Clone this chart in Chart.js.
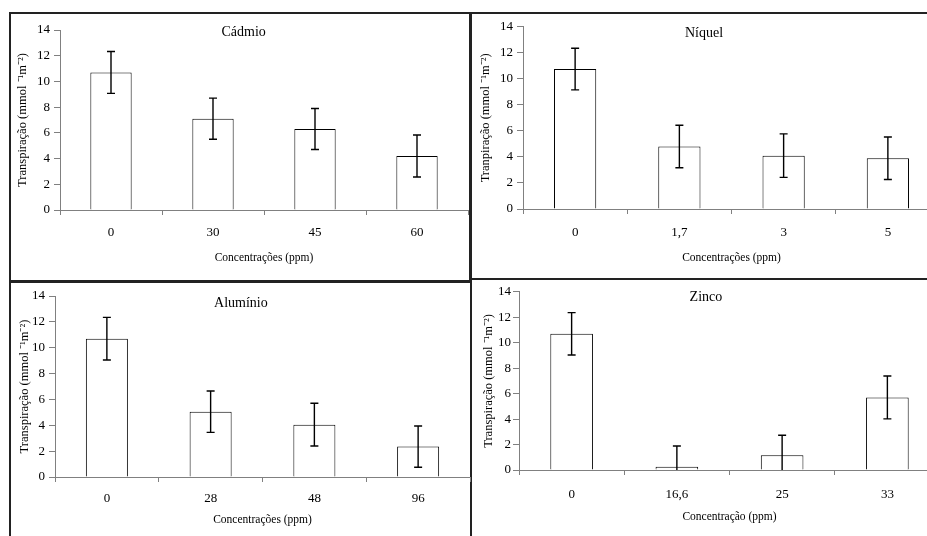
<!DOCTYPE html>
<html>
<head>
<meta charset="utf-8">
<script src="https://cdn.jsdelivr.net/npm/chart.js@4.4.1/dist/chart.umd.min.js"></script>
<style>
  body { margin: 0; width: 927px; height: 536px; overflow: hidden; background: #fff; position: relative; }
  .box { position: absolute; border: 2px solid #222; box-sizing: border-box; }
  canvas { position: absolute; }
</style>
</head>
<body>
<div class="box" style="left:9px;top:12px;width:463px;height:271px"></div>
<div class="box" style="left:469px;top:12px;width:500px;height:268px"></div>
<div class="box" style="left:9px;top:280px;width:463px;height:300px"></div>
<div class="box" style="left:470px;top:278px;width:500px;height:300px"></div>

<canvas id="cadmio" width="460" height="264" style="left:12px;top:15px"></canvas>
<canvas id="niquel" width="470" height="262" style="left:475px;top:15px"></canvas>
<canvas id="aluminio" width="461" height="252" style="left:14px;top:284px"></canvas>
<canvas id="zinco" width="467" height="254" style="left:478px;top:282px"></canvas>

<script>
// data
const cadmioLabels = ['0', '30', '45', '60'];
const cadmioValues = [10.7, 7.1, 6.3, 4.2];
const cadmioErrors = [1.63, 1.6, 1.6, 1.63];

const niquelLabels = ['0', '1,7', '3', '5'];
const niquelValues = [10.75, 4.8, 4.1, 3.9];
const niquelErrors = [1.6, 1.63, 1.67, 1.63];

const aluminioLabels = ['0', '28', '48', '96'];
const aluminioValues = [10.7, 5.05, 4.05, 2.35];
const aluminioErrors = [1.65, 1.6, 1.65, 1.6];

const zincoLabels = ['0', '16,6', '25', '33'];
const zincoValues = [10.7, 0.26, 1.15, 5.7];
const zincoErrors = [1.66, 1.63, 1.58, 1.68];

const yTicksMax = 14;
const yTicksStep = 2;

const serif = "'Liberation Serif', 'Times New Roman', serif";
Chart.defaults.font.family = serif;
Chart.defaults.color = '#000';

const axisGray = '#808080';

// error bars + panel title
const extras = {
  id: 'extras',
  afterDatasetsDraw(chart) {
    const o = chart.options.plugins.extras;
    const ctx = chart.ctx;
    const x = chart.scales.x, y = chart.scales.y;
    const area = chart.chartArea;
    ctx.save();
    ctx.strokeStyle = '#000';
    ctx.lineWidth = 1.4;
    o.values.forEach((v, i) => {
      const px = x.getPixelForValue(i);
      const hi = v + o.errors[i];
      const lo = v - o.errors[i];
      const yHi = y.getPixelForValue(hi);
      const yLo = y.getPixelForValue(Math.max(lo, 0));
      ctx.beginPath();
      ctx.moveTo(px, yHi);
      ctx.lineTo(px, yLo);
      ctx.moveTo(px - 4, yHi);
      ctx.lineTo(px + 4, yHi);
      if (lo >= 0) {
        ctx.moveTo(px - 4, yLo);
        ctx.lineTo(px + 4, yLo);
      }
      ctx.stroke();
    });
    ctx.fillStyle = '#000';
    ctx.font = '14px ' + serif;
    ctx.textAlign = 'center';
    ctx.textBaseline = 'middle';
    ctx.fillText(o.title, area.left + o.titleX * (area.right - area.left), area.top + o.titleY);
    ctx.restore();
  }
};

function makePanel(id, labels, values, errors, p) {
  return new Chart(document.getElementById(id), {
    type: 'bar',
    data: {
      labels: labels,
      datasets: [{
        data: values,
        backgroundColor: '#fff',
        borderColor: '#000',
        borderWidth: 1,
        barPercentage: 0.405,
        categoryPercentage: 1
      }]
    },
    options: {
      responsive: false,
      animation: false,
      layout: { padding: { top: p.padTop, right: p.padRight, left: 0, bottom: 0 } },
      plugins: {
        legend: { display: false },
        tooltip: { enabled: false },
        extras: { values: values, errors: errors, title: p.title, titleX: p.titleX, titleY: p.titleY }
      },
      scales: {
        x: {
          grid: { display: true, drawOnChartArea: false, offset: true, color: axisGray, tickLength: 5 },
          border: { color: axisGray },
          ticks: { font: { size: 13 }, padding: p.tickPad, color: '#000' },
          title: { display: true, text: p.xTitle, font: { size: 11.5 }, padding: { top: 0, bottom: p.xTitlePad } },
          afterFit: s => { s.height = p.axisH; }
        },
        y: {
          min: 0,
          max: yTicksMax,
          grid: { display: true, drawOnChartArea: false, color: axisGray, tickLength: 6 },
          border: { color: axisGray },
          ticks: { stepSize: yTicksStep, font: { size: 13 }, padding: p.yTickPad, color: '#000' },
          title: { display: true, text: p.yTitle, font: { size: 12.5 }, padding: { top: 3, bottom: 0 } },
          afterFit: s => { s.width = p.axisW; }
        }
      }
    },
    plugins: [extras]
  });
}

makePanel('cadmio', cadmioLabels, cadmioValues, cadmioErrors, {
  title: 'Cádmio', yTitle: 'Transpiração (mmol ⁻¹m⁻²)', xTitle: 'Concentrações (ppm)',
  axisW: 48, axisH: 69, padTop: 15, padRight: 4, tickPad: 10, yTickPad: 4, xTitlePad: 14, titleX: 0.45, titleY: 2
});
makePanel('niquel', niquelLabels, niquelValues, niquelErrors, {
  title: 'Níquel', yTitle: 'Tranpiração (mmol ⁻¹m⁻²)', xTitle: 'Concentrações (ppm)',
  axisW: 48, axisH: 68, padTop: 11, padRight: 5, tickPad: 11, yTickPad: 4, xTitlePad: 12, titleX: 0.434, titleY: 7
});
makePanel('aluminio', aluminioLabels, aluminioValues, aluminioErrors, {
  title: 'Alumínio', yTitle: 'Transpiração (mmol ⁻¹m⁻²)', xTitle: 'Concentrações (ppm)',
  axisW: 41, axisH: 59, padTop: 12, padRight: 5, tickPad: 8.5, yTickPad: 4, xTitlePad: 9, titleX: 0.448, titleY: 7
});
makePanel('zinco', zincoLabels, zincoValues, zincoErrors, {
  title: 'Zinco', yTitle: 'Transpiração (mmol ⁻¹m⁻²)', xTitle: 'Concentração (ppm)',
  axisW: 41, axisH: 66, padTop: 8, padRight: 5, tickPad: 12, yTickPad: 2, xTitlePad: 12, titleX: 0.444, titleY: 6
});
</script>
</body>
</html>
